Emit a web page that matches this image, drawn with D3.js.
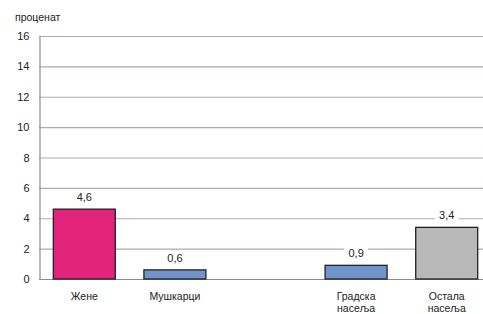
<!DOCTYPE html>
<html lang="sr">
<head>
    <meta charset="UTF-8">
    <title>Проценат</title>
    <script src="https://d3js.org/d3.v7.min.js"></script>
    <style>
        body { margin: 0; background: #fff; }
        text { font-family: "Liberation Sans", Arial, sans-serif; }
    </style>
</head>
<body>
    <script type="text/javascript">

        var categories = ["Жене", "Мушкарци", "", "Градска насеља", "Остала насеља"];
        var values = [4.6, 0.6, null, 0.9, 3.4];
        var colors = ["#e2237b", "#6f95cb", "#ffffff", "#6f95cb", "#b9b9b9"];
        var yTicks = [0, 2, 4, 6, 8, 10, 12, 14, 16];

        var w = 483;
        var h = 314;
        var plotLeft = 39, plotTop = 36, plotBottom = 279;

        var svg = d3.select("body")
            .append("svg")
            .attr("width", w)
            .attr("height", h);

        var x = d3.scaleBand()
            .domain(d3.range(categories.length))
            .range([plotLeft, 492])
            .paddingInner(0.316)
            .paddingOuter(0.158);

        var y = d3.scaleLinear()
            .domain([0, 16])
            .range([plotBottom, plotTop]);

        // grid
        svg.selectAll("line.grid")
            .data(yTicks)
            .enter()
            .append("line")
            .attr("class", "grid")
            .attr("x1", plotLeft)
            .attr("x2", w)
            .attr("y1", function (d) { return y(d) + 0.5; })
            .attr("y2", function (d) { return y(d) + 0.5; })
            .attr("stroke", function (d) { return d === 0 ? "#8c8c8c" : "#b3aaa8"; })
            .attr("stroke-width", 1.2);

        // y axis
        var yAxis = svg.append("g")
            .attr("transform", "translate(" + (plotLeft + 0.5) + ",0)")
            .call(d3.axisLeft(y).tickValues(yTicks).tickSize(0).tickPadding(10));
        yAxis.select(".domain").attr("stroke", "#8c8c8c").attr("stroke-width", 1.2);
        yAxis.selectAll("text")
            .attr("font-size", "11px")
            .attr("fill", "#222")
            .attr("font-family", "Liberation Sans, Arial, sans-serif");

        svg.append("text")
            .attr("x", 15)
            .attr("y", 21)
            .attr("font-size", "10.5px")
            .attr("fill", "#222")
            .text("проценат");

        var data = values.map(function (v, i) { return { i: i, v: v }; })
            .filter(function (d) { return d.v !== null; });

        svg.selectAll("rect.bar")
            .data(data)
            .enter()
            .append("rect")
            .attr("class", "bar")
            .attr("x", function (d) { return x(d.i); })
            .attr("y", function (d) { return y(d.v); })
            .attr("width", x.bandwidth())
            .attr("height", function (d) { return y(0) - y(d.v); })
            .attr("fill", function (d) { return colors[d.i]; })
            .attr("stroke", "#222")
            .attr("stroke-width", 1.3);

        // value labels with white background
        var labels = svg.selectAll("g.lbl")
            .data(data)
            .enter()
            .append("g")
            .attr("class", "lbl")
            .attr("transform", function (d) {
                return "translate(" + (x(d.i) + x.bandwidth() / 2) + "," + (y(d.v) - 8) + ")";
            });
        labels.append("rect")
            .attr("x", -12)
            .attr("y", -11)
            .attr("width", 24)
            .attr("height", 14)
            .attr("fill", "#fff");
        labels.append("text")
            .attr("text-anchor", "middle")
            .attr("font-size", "11px")
            .attr("fill", "#222")
            .text(function (d) { return String(d.v).replace(".", ","); });

        // category labels
        categories.forEach(function (c, i) {
            if (!c) return;
            var parts = c.split(" ");
            var t = svg.append("text")
                .attr("text-anchor", "middle")
                .attr("font-size", "10.5px")
                .attr("fill", "#222")
                .attr("x", x(i) + x.bandwidth() / 2)
                .attr("y", 300);
            parts.forEach(function (p, k) {
                t.append("tspan")
                    .attr("x", x(i) + x.bandwidth() / 2)
                    .attr("dy", k === 0 ? 0 : 12)
                    .text(p);
            });
        });

    </script>
</body>
</html>
